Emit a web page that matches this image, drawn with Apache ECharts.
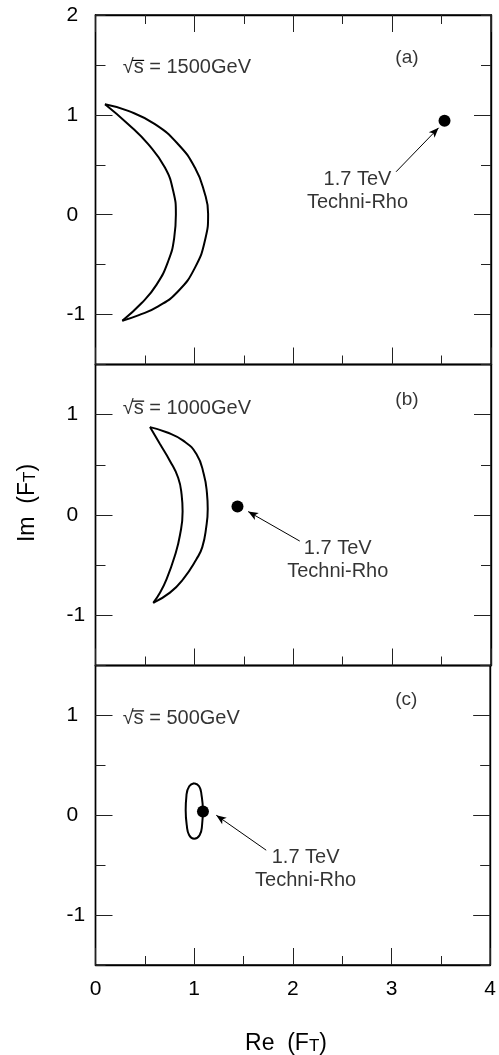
<!DOCTYPE html>
<html><head><meta charset="utf-8">
<script src="https://cdn.jsdelivr.net/npm/echarts@6/dist/echarts.min.js"></script>
<style>html,body{margin:0;padding:0;background:#fff}#c{width:499px;height:1055px}</style>
</head><body><div id="c"></div>
<script>
// ---- data ----
const panelLetters = ['(a)', '(b)', '(c)'];
const energyLabels = ['\u221as = 1500GeV', '\u221as = 1000GeV', '\u221as = 500GeV'];
const yRanges = [[-1.5, 2], [-1.5, 1.5], [-1.5, 1.5]];
const yMajorTicks = [[-1, 0, 1], [-1, 0, 1], [-1, 0, 1]];
const yTickLabels = [[-1, 0, 1, 2], [-1, 0, 1], [-1, 0, 1]];
const xRange = [0, 4];

const outerA = [[0.096,1.107],[0.331,1.040],[0.601,0.907],[0.836,0.706],[1.005,0.472],[1.100,0.230],[1.139,0.010],[1.110,-0.245],[1.005,-0.532],[0.836,-0.767],[0.634,-0.918],[0.432,-1.008],[0.271,-1.061]];
const innerA = [[0.096,1.107],[0.331,0.907],[0.533,0.706],[0.702,0.472],[0.786,0.237],[0.813,0.003],[0.796,-0.231],[0.735,-0.466],[0.618,-0.700],[0.467,-0.884],[0.271,-1.061]];
const outerB = [[0.551,0.876],[0.719,0.825],[0.887,0.741],[1.022,0.606],[1.096,0.404],[1.127,0.220],[1.135,0.060],[1.120,-0.120],[1.080,-0.320],[1.022,-0.438],[0.887,-0.639],[0.753,-0.774],[0.584,-0.875]];
const innerB = [[0.551,0.876],[0.652,0.707],[0.753,0.539],[0.836,0.371],[0.871,0.202],[0.881,0.034],[0.854,-0.202],[0.803,-0.404],[0.719,-0.639],[0.652,-0.774],[0.584,-0.875]];
const contourC = [[1.00,0.32],[1.05,0.29],[1.075,0.20],[1.088,0.05],[1.08,-0.10],[1.055,-0.20],[1.00,-0.235],[0.95,-0.20],[0.925,-0.10],[0.914,0.05],[0.922,0.20],[0.95,0.29],[1.00,0.32]];
const contours = [[outerA, innerA], [outerB, innerB], [contourC]];

const rhoPoints = [[3.53, 0.94], [1.436, 0.085], [1.089, 0.037]];
const arrowFrom = [[3.04, 0.43], [2.066, -0.26], [1.73, -0.35]];
const arrowTo = [[3.47, 0.87], [1.544, 0.034], [1.224, 0.0]];
const rhoText = '1.7 TeV\nTechni-Rho';
const rhoTextAt = [[2.65, 0.24], [2.45, -0.447], [2.13, -0.54]];
const energyAt = [[0.275, 1.47], [0.275, 1.06], [0.275, 0.97]];
const letterAt = [[3.15, 1.575], [3.15, 1.15], [3.15, 1.16]];

// ---- layout ----
const FONT = 'Liberation Sans, Arial, Helvetica, sans-serif';
const grids = [
  { left: 95.5, right: 8, top: 15, height: 349.5 },
  { left: 95.5, right: 8, top: 364.5, height: 301 },
  { left: 95.5, right: 8, top: 665.5, height: 299.5 }
];
const tickStyle = { color: '#222', width: 1 };
const frameLine = { show: true, onZero: false, lineStyle: { color: '#000', width: 1.4 } };

const xAxes = [], yAxes = [], series = [];
grids.forEach((g, i) => {
  g.show = true; g.borderColor = '#000'; g.borderWidth = 1.4; g.backgroundColor = 'transparent';
  const positions = i === 0 ? ['bottom', 'top'] : ['bottom'];
  positions.forEach(pos => {
    xAxes.push({
      type: 'value', gridIndex: i, position: pos, min: xRange[0], max: xRange[1], interval: 1,
      axisLine: frameLine,
      axisTick: { show: true, inside: true, length: 17, lineStyle: tickStyle },
      minorTick: { show: true, splitNumber: 2, length: 9, lineStyle: tickStyle },
      splitLine: { show: false }, minorSplitLine: { show: false },
      axisLabel: { show: i === 2 && pos === 'bottom', fontSize: 21, color: '#000', fontFamily: FONT, margin: 14 }
    });
  });
  ['left', 'right'].forEach(pos => {
    yAxes.push({
      type: 'value', gridIndex: i, position: pos, min: yRanges[i][0], max: yRanges[i][1], interval: 0.5,
      axisLine: frameLine,
      axisTick: { show: true, inside: true, length: 10, lineStyle: tickStyle },
      splitLine: { show: false }, axisLabel: { show: false }
    });
    yAxes.push({
      type: 'value', gridIndex: i, position: pos, min: yRanges[i][0], max: yRanges[i][1], interval: 0.5,
      axisLine: { show: false, onZero: false },
      axisTick: { show: true, inside: true, length: 17, lineStyle: tickStyle, customValues: yMajorTicks[i] },
      splitLine: { show: false },
      axisLabel: { show: pos === 'left', customValues: yTickLabels[i], fontSize: 21, color: '#000',
        fontFamily: FONT, align: 'left', margin: 29 }
    });
  });
});

grids.forEach((g, i) => {
  const xIdx = i === 0 ? 0 : i + 1;
  const yIdx = i * 4;
  contours[i].forEach(c => {
    series.push({ type: 'line', xAxisIndex: xIdx, yAxisIndex: yIdx, data: c, smooth: 0.5,
      symbol: 'none', lineStyle: { color: '#000', width: 2 }, silent: true, z: 3 });
  });
  series.push({
    type: 'scatter', xAxisIndex: xIdx, yAxisIndex: yIdx, data: [rhoPoints[i]], symbolSize: 12,
    itemStyle: { color: '#000', opacity: 1 }, z: 5, silent: true,
    markLine: {
      silent: true, symbol: ['none', 'arrow'], symbolSize: 8,
      lineStyle: { color: '#000', width: 1, type: 'solid', opacity: 1 }, label: { show: false },
      data: [[{ coord: arrowFrom[i], symbol: 'none' }, { coord: arrowTo[i], symbol: 'arrow', symbolSize: [6, 10] }]]
    }
  });
  series.push({
    type: 'scatter', xAxisIndex: xIdx, yAxisIndex: yIdx, symbolSize: 0, silent: true,
    data: [rhoTextAt[i]],
    label: { show: true, position: 'inside', formatter: rhoText, fontSize: 20, lineHeight: 23,
      color: '#000', fontFamily: FONT, align: 'center' }
  });
  series.push({
    type: 'scatter', xAxisIndex: xIdx, yAxisIndex: yIdx, symbolSize: 0, silent: true,
    data: [energyAt[i]],
    label: { show: true, position: 'right', distance: 0, formatter: energyLabels[i], fontSize: 20,
      color: '#000', fontFamily: FONT }
  });
  series.push({
    type: 'scatter', xAxisIndex: xIdx, yAxisIndex: yIdx, symbolSize: 0, silent: true,
    data: [letterAt[i]],
    label: { show: true, position: 'inside', formatter: panelLetters[i], fontSize: 19,
      color: '#000', fontFamily: FONT }
  });
});

const titleRich = {
  m: { fontSize: 23, fontFamily: FONT, color: '#000', lineHeight: 30, verticalAlign: 'bottom' },
  s: { fontSize: 17, fontFamily: FONT, color: '#000', lineHeight: 13, verticalAlign: 'bottom' }
};

const chart = echarts.init(document.getElementById('c'), null, { renderer: 'canvas' });
chart.setOption({
  backgroundColor: '#fff',
  animation: false,
  grid: grids,
  xAxis: xAxes,
  yAxis: yAxes,
  series: series,
  graphic: [
    { type: 'text', x: 286, y: 1040, style: { text: '{m|Re  (F}{s|T}{m|)}', rich: titleRich, align: 'center', verticalAlign: 'middle' } },
    { type: 'text', x: 24, y: 503, rotation: Math.PI / 2, style: { text: '{m|Im  (F}{s|T}{m|)}', rich: titleRich, align: 'center', verticalAlign: 'middle' } }
  ]
});

// overline of the square root, placed relative to each energy label anchor
const radW = echarts.format.getTextRect ? echarts.format.getTextRect('\u221a', '20px ' + FONT).width : 11;
const sW = echarts.format.getTextRect ? echarts.format.getTextRect('s', '20px ' + FONT).width : 10;
const overlines = energyAt.map((p, i) => {
  const pt = chart.convertToPixel({ gridIndex: i }, p);
  return { type: 'line', silent: true,
    shape: { x1: pt[0] + radW - 1.5, y1: pt[1] - 7.5, x2: pt[0] + radW + sW + 0.5, y2: pt[1] - 7.5 },
    style: { stroke: '#000', lineWidth: 1.2 } };
});
chart.setOption({ graphic: overlines.map((o, k) => Object.assign({ id: 'ov' + k }, o)) });
</script></body></html>
